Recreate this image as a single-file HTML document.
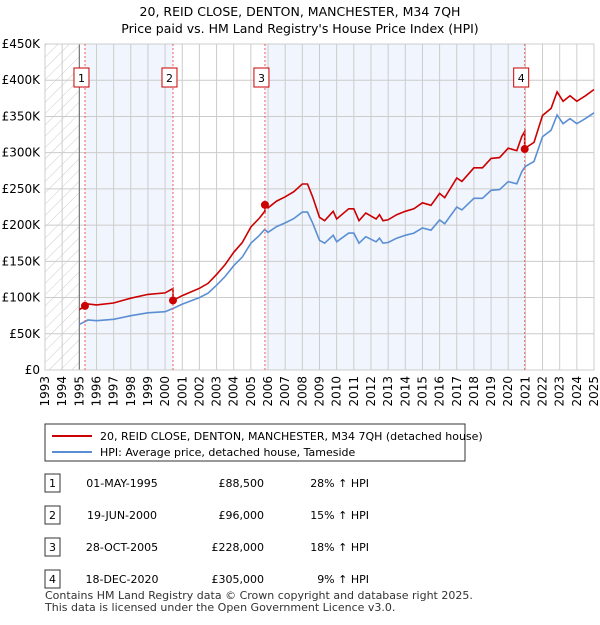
<!DOCTYPE html>
<html><head><meta charset="utf-8"><style>
body{margin:0;background:#fff;font-family:"Liberation Sans",sans-serif;}
svg text{font-family:"DejaVu Sans","Liberation Sans",sans-serif;}
</style></head><body>
<svg id="c" width="600" height="620" xmlns="http://www.w3.org/2000/svg">
<defs><pattern id="h" width="8" height="8" patternUnits="userSpaceOnUse" patternTransform="rotate(45)"><line x1="0" y1="0" x2="0" y2="8" stroke="#ccc" stroke-width="1"/></pattern></defs>
<text x="300" y="16" text-anchor="middle" font-size="12.5">20, REID CLOSE, DENTON, MANCHESTER, M34 7QH</text>
<text x="300" y="33" text-anchor="middle" font-size="12.5">Price paid vs. HM Land Registry's House Price Index (HPI)</text>
<g id="plot"></g>
<rect x="45" y="424" width="420" height="37" fill="#fff" stroke="#333"/>
<line x1="52" y1="436" x2="92" y2="436" stroke="#cc0000" stroke-width="2"/>
<text x="100" y="440" font-size="11">20, REID CLOSE, DENTON, MANCHESTER, M34 7QH (detached house)</text>
<line x1="52" y1="452" x2="92" y2="452" stroke="#5b8fd4" stroke-width="2"/>
<text x="100" y="456" font-size="11">HPI: Average price, detached house, Tameside</text>
<g id="tbl"></g>
<text x="45" y="599" font-size="11" fill="#333">Contains HM Land Registry data © Crown copyright and database right 2025.</text>
<text x="45" y="611" font-size="11" fill="#333">This data is licensed under the Open Government Licence v3.0.</text>
</svg>
<script>
const hpiYears=[1995,1995.5,1996,1997,1998,1999,2000,2000.5,2001,2002,2002.5,2003,2003.5,2004,2004.5,2005,2005.5,2005.8,2006,2006.5,2007,2007.5,2008,2008.3,2008.6,2009,2009.3,2009.8,2010,2010.7,2011,2011.3,2011.7,2012.3,2012.5,2012.7,2013,2013.5,2014,2014.5,2015,2015.5,2016,2016.3,2017,2017.3,2018,2018.5,2019,2019.5,2020,2020.5,2020.8,2021,2021.5,2022,2022.5,2022.85,2023.2,2023.6,2024,2024.5,2025];
const hpiValues=[63,69,68,70,75,79,80.5,85.5,91,100,106,117,129,144,156,175,186,194,190,198,203,209,218,218,203,179,175,186,177,189,189,175,184,177,182,175,176,182,186,189,196,193,207,202,225,221,237,237,248,249,260,257,274,281,288,322,331,352,340,347,340,347,355];
const saleLabels=["1","2","3","4"];
const saleYears=[1995.33,2000.46,2005.82,2020.96];
const salePrices=[88.5,96,228,305];
const saleDates=["01-MAY-1995","19-JUN-2000","28-OCT-2005","18-DEC-2020"];
const salePriceText=["£88,500","£96,000","£228,000","£305,000"];
const salePctText=["28% ↑ HPI","15% ↑ HPI","18% ↑ HPI","9% ↑ HPI"];
const yTicks=[0,50,100,150,200,250,300,350,400,450];
const yTickLabels=["£0","£50K","£100K","£150K","£200K","£250K","£300K","£350K","£400K","£450K"];
const x0=45,x1=594,y0=370,y1=44;
const X=t=>x0+(t-1993)/(2025-1993)*(x1-x0);
const Y=v=>y0-v/450*(y0-y1);
const NS="http://www.w3.org/2000/svg";
const plot=document.getElementById('plot');
function mk(tag,attrs,parent){const e=document.createElementNS(NS,tag);for(const k in attrs)e.setAttribute(k,attrs[k]);(parent||plot).appendChild(e);return e;}
function hpiAt(t){for(let i=0;i<hpiYears.length-1;i++){if(t<=hpiYears[i+1]){const f=(t-hpiYears[i])/(hpiYears[i+1]-hpiYears[i]);return hpiValues[i]+f*(hpiValues[i+1]-hpiValues[i]);}}return hpiValues[hpiValues.length-1];}
// background bands
let bg=mk('rect',{x:x0,y:y1,width:x1-x0,height:y0-y1,fill:'#fff'});


const bandPairs=[[0,1],[2,3]];
bandPairs.forEach(p=>{let r=mk('rect',{x:X(saleYears[p[0]]),y:y1,width:X(saleYears[p[1]])-X(saleYears[p[0]]),height:y0-y1,fill:'#eef3fc',opacity:0.8});

});
let hz=mk('rect',{x:x0,y:y1,width:X(1995)-x0,height:y0-y1,fill:'url(#h)'});


// grid
yTicks.forEach((v,i)=>{let l=mk('line',{x1:x0,x2:x1,y1:Y(v),y2:Y(v),stroke:'#ccc'});


let t=mk('text',{x:40,y:Y(v)+4,'text-anchor':'end','font-size':12});t.textContent=yTickLabels[i];

});
for(let yr=1993;yr<=2025;yr++){let l=mk('line',{x1:X(yr),x2:X(yr),y1:y1,y2:y0,stroke:'#ccc'});


let t=mk('text',{x:0,y:0,'text-anchor':'end','font-size':12,transform:`translate(${X(yr)+4},${y0+6}) rotate(-90)`});t.textContent=yr;

}
let ax=mk('line',{x1:X(1995),x2:X(1995),y1:y1,y2:y0,stroke:'#666'});


let fr=mk('rect',{x:x0,y:y1,width:x1-x0,height:y0-y1,fill:'none',stroke:'#ccc'});


// lines
const factors=saleYears.map((s,i)=>salePrices[i]/hpiAt(s));
function factorAt(t){let f=factors[0];saleYears.forEach((s,i)=>{if(t>=s)f=factors[i];});return f;}
let ts=[...hpiYears,...saleYears].sort((a,b)=>a-b);
let bp=hpiYears.map((t,i)=>`${X(t).toFixed(1)},${Y(hpiValues[i]).toFixed(1)}`).join(' ');
let hl=mk('polyline',{points:bp,fill:'none',stroke:'#5b8fd4','stroke-width':1.6});


let rp=[];ts.forEach(t=>{const h=hpiAt(t);let i=saleYears.indexOf(t);if(i>0){rp.push([t,h*factors[i-1]]);}rp.push([t,h*factorAt(t)]);});
let rl=mk('polyline',{points:rp.map(p=>`${X(p[0]).toFixed(1)},${Y(p[1]).toFixed(1)}`).join(' '),fill:'none',stroke:'#cc0000','stroke-width':1.6});


saleYears.forEach((s,i)=>{
let l=mk('line',{x1:X(s),x2:X(s),y1:y1,y2:y0,stroke:'#f06060','stroke-dasharray':'2,2'});


let c=mk('circle',{cx:X(s),cy:Y(salePrices[i]),r:4,fill:'#cc0000'});


let b=mk('rect',{x:X(s)-11,y:68,width:15,height:19,fill:'#fff',stroke:'#cc0000'});


let t=mk('text',{x:X(s)-3.5,y:82,'text-anchor':'middle','font-size':11});t.textContent=saleLabels[i];


});
// table
const tbl=document.getElementById('tbl');
saleLabels.forEach((s,i)=>{const y=487+i*32;
let b=mk('rect',{x:45,y:y-13,width:15,height:18,fill:'#fff',stroke:'#333'},tbl);


let n=mk('text',{x:52.5,y:y,'text-anchor':'middle','font-size':11},tbl);n.textContent=s;


let d=mk('text',{x:122,y:y,'text-anchor':'middle','font-size':11},tbl);d.textContent=saleDates[i];


let p=mk('text',{x:264,y:y,'text-anchor':'end','font-size':11},tbl);p.textContent=salePriceText[i];


let q=mk('text',{x:369,y:y,'text-anchor':'end','font-size':11},tbl);q.textContent=salePctText[i];


});
</script>
</body></html>
